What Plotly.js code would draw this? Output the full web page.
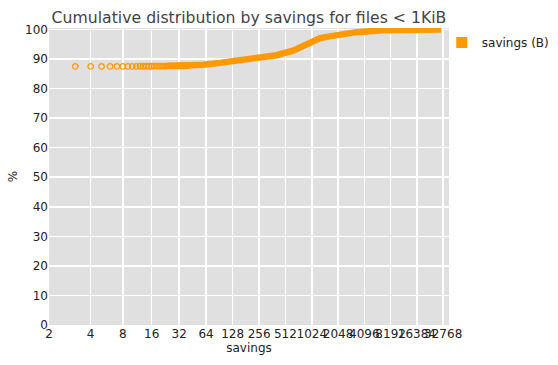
<!DOCTYPE html>
<html>
<head>
<meta charset="utf-8">
<script src="https://cdn.plot.ly/plotly-3.0.1.min.js"></script>
<style>html,body{margin:0;padding:0;background:#fff;}#chart{width:558px;height:365px;}</style>
</head>
<body>
<div id="chart"></div>
<script>
// Sparse part: individual points (savings in bytes, cumulative %)
const sparseSavings = [3,4,5,6,7,8,9,10,11,12,13,14,15,16,17,18,19,20,21,22,23,24,25,26,27,28,29,30,31,32,33,34,35,36,37,38,39,40];
const sparsePercent = [87.5,87.5,87.5,87.5,87.5,87.5,87.5,87.5,87.5,87.55,87.55,87.55,87.55,87.55,87.6,87.6,87.6,87.6,87.6,87.6,87.6,87.65,87.65,87.65,87.65,87.65,87.65,87.7,87.7,87.7,87.7,87.7,87.7,87.7,87.75,87.75,87.75,87.75];
// Dense part (points merge into a solid band)
const denseSavings = [30,45,59,92,141,216,339,404,626,815,970,1263,1509,2337,3330,6660,12000,31000];
const densePercent = [87.7,87.8,88.1,88.7,89.4,90.0,90.8,91.3,92.8,94.4,95.5,97.0,97.5,98.3,99.1,99.7,99.9,100.0];
// Tick labels of the savings axis
const tickLabels = [2,4,8,16,32,64,128,256,512,1024,2048,4096,8192,16384,32768];
const seriesName = 'savings (B)';

const orange = '#ff9900';
// axis is logarithmic in (savings - 1)
const shift = v => v - 1;

const traces = [
  {
    x: denseSavings.map(shift), y: densePercent,
    type: 'scatter', mode: 'lines',
    line: {color: orange, width: 6.5},
    showlegend: false, hoverinfo: 'skip'
  },
  {
    x: sparseSavings.map(shift), y: sparsePercent,
    type: 'scatter', mode: 'markers',
    marker: {symbol: 'circle-open', size: 5.5, color: orange, line: {width: 1.3, color: orange}},
    showlegend: false
  },
  {
    x: [null], y: [null], name: seriesName,
    type: 'scatter', mode: 'markers',
    marker: {symbol: 'square', size: 11, color: orange, line: {width: 0}},
    showlegend: true
  }
];

const layout = {
  width: 558, height: 365,
  margin: {l: 49, r: 109, t: 28, b: 40, autoexpand: false},
  paper_bgcolor: '#ffffff',
  plot_bgcolor: '#e0e0e0',
  font: {family: 'DejaVu Sans', size: 12, color: '#222222'},
  title: {
    text: 'Cumulative distribution by savings for files < 1KiB',
    font: {family: 'DejaVu Sans', size: 15.7, color: '#444444'},
    x: 0.5, xref: 'paper', xanchor: 'center',
    y: 1, yref: 'paper', yanchor: 'bottom', pad: {b: 5}
  },
  xaxis: {
    type: 'log',
    range: [0, 4.582],
    tickvals: tickLabels.map(shift),
    ticktext: tickLabels.map(String),
    tickangle: 0,
    showgrid: true, gridcolor: '#ffffff', gridwidth: 1.5,
    zeroline: false, showline: false, ticks: '',
    tickfont: {size: 12, color: '#222222'},
    title: {text: 'savings', font: {size: 12, color: '#222222'}, standoff: 1}
  },
  yaxis: {
    range: [0, 100.5],
    tickvals: [0,10,20,30,40,50,60,70,80,90,100],
    showgrid: true, gridcolor: '#ffffff', gridwidth: 1.5,
    zeroline: false, showline: false, ticks: '',
    tickfont: {size: 12, color: '#222222'},
    title: {text: '%', font: {size: 12, color: '#222222'}, standoff: 4}
  },
  legend: {
    x: 0.982, xanchor: 'left', y: 1.0, yanchor: 'top',
    font: {size: 12, color: '#222222'},
    bgcolor: 'rgba(0,0,0,0)', borderwidth: 0
  },
  showlegend: true
};

Plotly.newPlot('chart', traces, layout, {staticPlot: true, displayModeBar: false});
</script>
</body>
</html>
